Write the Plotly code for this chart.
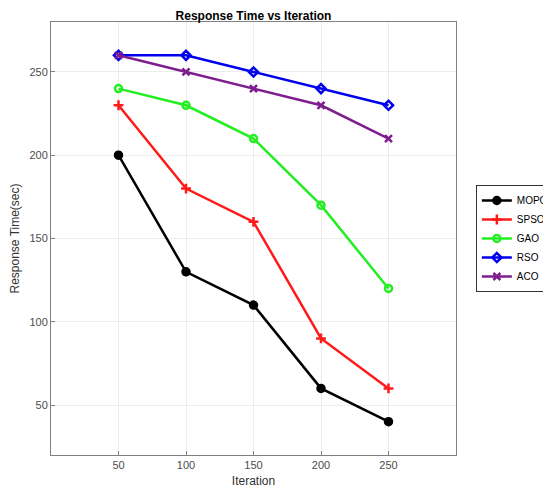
import plotly.graph_objects as go

iterations = [50, 100, 150, 200, 250]
mopos = [200, 130, 110, 60, 40]
spso = [230, 180, 160, 90, 60]
gao = [240, 230, 210, 170, 120]
rso = [260, 260, 250, 240, 230]
aco = [260, 250, 240, 230, 210]

series = [
    ("MOPOSO", mopos, "#000000", "circle"),
    ("SPSO", spso, "#ff1a1a", "cross-thin-open"),
    ("GAO", gao, "#22ee22", "circle-open"),
    ("RSO", rso, "#0000ee", "diamond-open"),
    ("ACO", aco, "#7e1e8e", "x-thin-open"),
]

fig = go.Figure()
for name, vals, color, sym in series:
    fig.add_trace(go.Scatter(
        x=iterations, y=vals, name=name, mode="lines+markers",
        line=dict(color=color, width=2.5),
        marker=dict(symbol=sym, size=7, color=color,
                    line=dict(color=color, width=2.5)),
    ))

axis_common = dict(
    showline=True, linecolor="#808080", linewidth=1, mirror=True,
    showgrid=True, gridcolor="#ececec", gridwidth=1,
    ticks="inside", ticklen=4, tickcolor="#808080",
    zeroline=False, automargin=False,
    tickfont=dict(family="Liberation Sans, Arial", size=11, color="#4d4d4d"),
    title_font=dict(family="Liberation Sans, Arial", size=12, color="#333333"),
)

fig.update_layout(
    width=543, height=491,
    margin=dict(l=43, r=95, t=14, b=44, autoexpand=False),
    paper_bgcolor="white", plot_bgcolor="white",
    title=dict(text="<b>Response Time vs Iteration</b>", x=0.5, xref="paper",
               y=0.985, yanchor="middle",
               font=dict(family="Liberation Sans, Arial", size=12, color="#000000")),
    xaxis=dict(range=[0, 300], tickvals=[50, 100, 150, 200, 250],
               title=dict(text="Iteration", standoff=6), **axis_common),
    yaxis=dict(range=[20, 280], tickvals=[50, 100, 150, 200, 250],
               title=dict(text="Response Time(sec)", standoff=8), **axis_common),
    legend=dict(x=1.049, y=0.50, xanchor="left", yanchor="middle",
                bordercolor="#333333", borderwidth=1, bgcolor="white",
                font=dict(family="Liberation Sans, Arial", size=10, color="#000000"),
                tracegroupgap=0, itemwidth=30),
    showlegend=True,
)

fig.write_html("out.html")
